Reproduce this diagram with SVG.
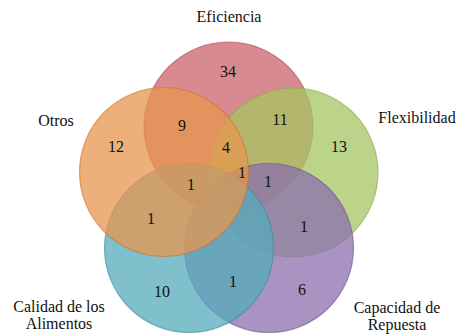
<svg xmlns="http://www.w3.org/2000/svg" width="458" height="335" viewBox="0 0 458 335">
<defs>
<style>
.c{fill-opacity:0.75;stroke-width:1.2;stroke-opacity:0.6}
.t{font-family:"Liberation Serif","DejaVu Serif",serif;font-size:16px;fill:#111;text-anchor:middle}
</style>
</defs>
<rect width="458" height="335" fill="#fff"/>
<g id="eficiencia"><circle class="c" cx="228.5" cy="126.5" r="84.5" fill="#cc636b" stroke="#b04850"/></g>
<g id="flexibilidad"><circle class="c" cx="293.5" cy="172.5" r="84.5" fill="#a6c663" stroke="#88a848"/></g>
<g id="capacidad"><circle class="c" cx="269" cy="248" r="84.5" fill="#8b6fae" stroke="#6a5090"/></g>
<g id="calidad"><circle class="c" cx="189" cy="248" r="84.5" fill="#54abbb" stroke="#3a8a9a"/></g>
<g id="otros"><circle class="c" cx="164" cy="172" r="84.5" fill="#e8964e" stroke="#c87530"/></g>
<g id="labels" class="t">
<text x="229" y="22">Eficiencia</text>
<text x="56" y="126">Otros</text>
<text x="417" y="123">Flexibilidad</text>
<text x="59" y="312">Calidad de los</text>
<text x="59" y="329">Alimentos</text>
<text x="397" y="313">Capacidad de</text>
<text x="397" y="330">Repuesta</text>
</g>
<g id="numbers" class="t">
<text x="228" y="77">34</text>
<text x="182" y="131">9</text>
<text x="280" y="125">11</text>
<text x="116" y="152">12</text>
<text x="226" y="153">4</text>
<text x="339" y="152">13</text>
<text x="242" y="178">1</text>
<text x="191" y="190">1</text>
<text x="268" y="187">1</text>
<text x="151" y="224">1</text>
<text x="304" y="232">1</text>
<text x="162" y="297">10</text>
<text x="233" y="287">1</text>
<text x="302" y="295">6</text>
</g>
</svg>
